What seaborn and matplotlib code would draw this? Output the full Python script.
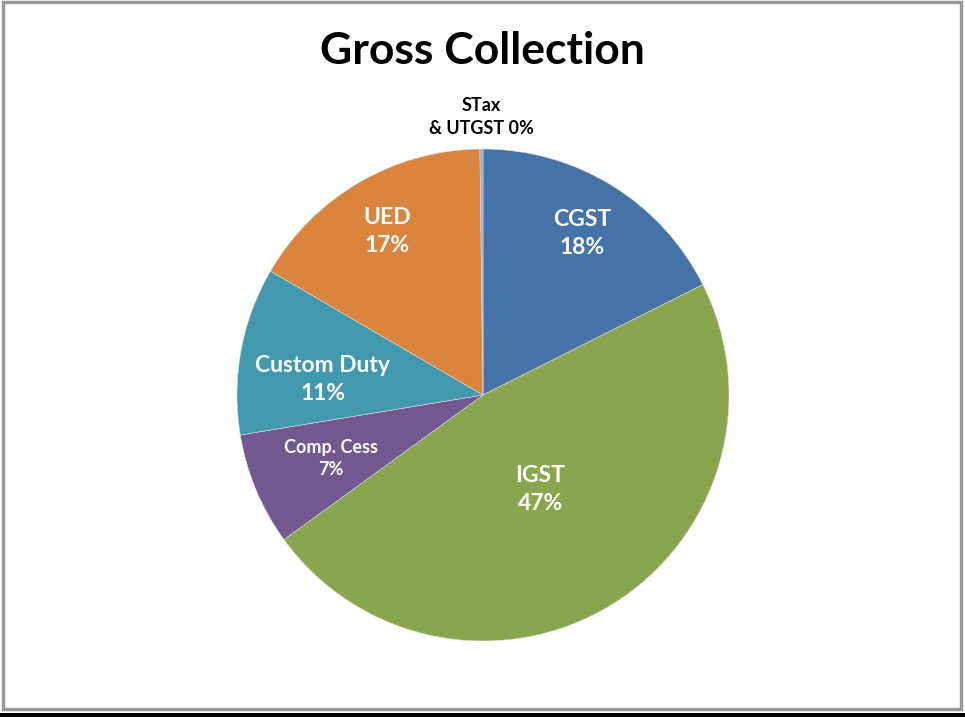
import matplotlib
matplotlib.use('Agg')
import matplotlib.pyplot as plt
import matplotlib.patches as mpatches
import numpy as np
import seaborn as sns

# share of gross collection, percent
categories = ['CGST', 'IGST', 'Comp. Cess', 'Custom Duty', 'UED', 'STax\n& UTGST']
values = [17.6, 47.4, 7.4, 11.0, 16.4, 0.2]
label_text = ['CGST\n18%', 'IGST\n47%', 'Comp. Cess\n7%', 'Custom Duty\n11%', 'UED\n17%', 'STax\n& UTGST 0%']

colors = ['#4572A7', '#89A54E', '#71588F', '#4198AF', '#DB843D', '#93A9CF']
label_dist = [0.77, 0.45, 0.67, 0.655, 0.77, 1.13]
label_shift = [0, 0, 0, 5, 0, 0]  # degrees
label_size = [16.5, 16.5, 13, 16.5, 16.5, 13]
label_color = ['white', 'white', 'white', 'white', 'white', 'black']

sns.set_theme(style='white')
plt.rcParams['font.family'] = ['Lato', 'DejaVu Sans']

fig = plt.figure(figsize=(9.65, 7.17), dpi=100)
W, H = 965, 717

# chart frame (kept behind the pie)
fig.patches.append(mpatches.Rectangle((3 / W, 8 / H), 958 / W, 707 / H, transform=fig.transFigure,
                                      facecolor='white', edgecolor='#9a9a9a', linewidth=2.5, zorder=-5))
fig.patches.append(mpatches.Rectangle((0, 0), 1, 4 / H, transform=fig.transFigure,
                                      facecolor='black', edgecolor='none', zorder=-5))

cx, cy, r = 483, 395, 246
ax = fig.add_axes([(cx - r) / W, (H - cy - r) / H, 2 * r / W, 2 * r / H])
ax.patch.set_alpha(0)
wedges, _ = ax.pie(values, colors=colors, startangle=90, counterclock=False,
                   wedgeprops=dict(edgecolor='#dddddd', linewidth=0.4))
ax.set_xlim(-1, 1)
ax.set_ylim(-1, 1)
ax.set_aspect('equal')
ax.axis('off')

for w, txt, d, sh, s, c in zip(wedges, label_text, label_dist, label_shift, label_size, label_color):
    ang = np.deg2rad((w.theta1 + w.theta2) / 2 + sh)
    ax.text(d * np.cos(ang), d * np.sin(ang), txt, ha='center', va='center',
            fontsize=s, fontweight='bold', color=c, linespacing=1.4)

fig.text(0.5, 1 - 51 / H, 'Gross Collection', ha='center', va='center',
         fontsize=32, fontweight='bold', color='black')

fig.savefig('out.png', dpi=100)
